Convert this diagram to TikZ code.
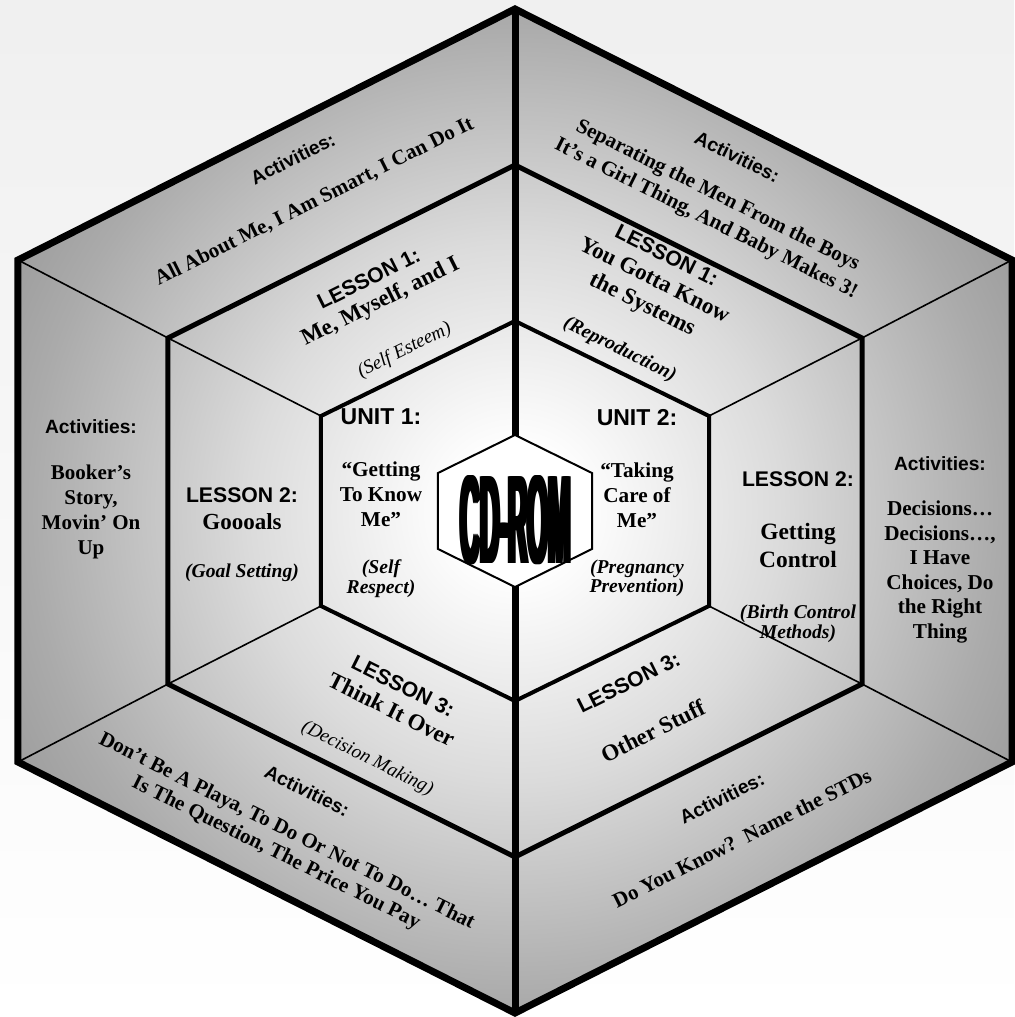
\documentclass[tikz,border=0pt]{standalone}
\usepackage{fontspec}
\setmainfont{Liberation Serif}
\setsansfont{Liberation Sans}

\newcommand{\bodyfont}[2]{\bfseries\fontsize{#1}{#2}\selectfont}
\newcommand{\acthead}{\sffamily\bfseries\fontsize{9.6}{11}\selectfont}
\newcommand{\lessonhead}{\sffamily\bfseries\fontsize{10.6}{12}\selectfont}
\newcommand{\unithead}{\sffamily\bfseries\fontsize{11.5}{13}\selectfont}
\newcommand{\boldnote}{\bfseries\itshape\fontsize{9.8}{10}\selectfont}
\newcommand{\plainnote}{\mdseries\itshape\fontsize{9.6}{10}\selectfont}
\newcommand{\hexof}[1]{(#11) -- (#12) -- (#13) -- (#14) -- (#15) -- (#16) -- cycle}

\pgfdeclareradialshading{hexshade}{\pgfpoint{0bp}{0bp}}{%
  color(0bp)=(white); color(3bp)=(white); color(13.4bp)=(black!14);
  color(24.4bp)=(black!33); color(35.4bp)=(black!48); color(40bp)=(black!52);
  color(50bp)=(black!56)}

\begin{document}
\begin{tikzpicture}[x=0.5pt, y=0.5pt,
    thinline/.style={line width=0.8pt},
    outerline/.style={line width=3.5pt, line join=miter},
    midline/.style={line width=2.5pt, line join=miter},
    innerline/.style={line width=2pt, line join=miter},
    spine/.style={line width=3.5pt},
    cdtext/.style={inner sep=0pt, xscale=0.45, yscale=2.1,
      font=\sffamily\bfseries\fontsize{30}{30}\selectfont},
    actbox/.style={align=center, inner sep=0pt, font=\bodyfont{10.5}{12.6}},
    lessonbox/.style={align=center, inner sep=0pt, font=\bodyfont{11.5}{13.5}},
    unitbox/.style={align=center, inner sep=0pt, font=\bodyfont{10.6}{12.5}}
  ]
  \useasboundingbox (-515,-506) rectangle (499,511);
  \fill[top color=black!6, bottom color=white] (-515,-506) rectangle (499,511);

  % corners of each ring: top, upper right, lower right, bottom, lower left, upper left
  \foreach \ring/\wid/\rad in {o/497/502, m/347/346, i/194/190, c/77/76}{
    \coordinate (\ring1) at (0,\rad);
    \coordinate (\ring2) at (\wid,\rad/2);
    \coordinate (\ring3) at (\wid,-\rad/2);
    \coordinate (\ring4) at (0,-\rad);
    \coordinate (\ring5) at (-\wid,-\rad/2);
    \coordinate (\ring6) at (-\wid,\rad/2);
  }

  \shade[shading=hexshade] \hexof{o};

  % spokes and rings
  \foreach \k in {2,3,5,6}
    \draw[thinline] (o\k) -- (m\k) -- (i\k);
  \draw[spine] (o1) -- (o4);
  \draw[midline] \hexof{m};
  \draw[innerline] \hexof{i};
  \draw[outerline] \hexof{o};
  \filldraw[line width=1pt, line join=miter, fill=white] \hexof{c};
  % heavy condensed lettering: a few copies side by side
  \foreach \dx [count=\n] in {-2,-1,0,1,2}
    \node[cdtext] (cdrom\n) at (1+\dx,-9) {CD-ROM};

  % outer ring: activities
  \node[actbox, rotate=26.5] (actTL) at (-211,330)
    {\acthead Activities:\\[11pt] All About Me, I Am Smart, I Can Do It};
  \node[actbox, rotate=-26.5] (actTR) at (206,322)
    {\acthead Activities:\\[8.5pt] Separating the Men From the Boys\\[0.5pt]
     It’s a Girl Thing, And Baby Makes 3!};
  \node[actbox, font=\bodyfont{10.5}{12.5}] (actL) at (-424,22)
    {\acthead Activities:\\[10.5pt] Booker’s\\ Story,\\ Movin’ On\\ Up};
  \node[actbox, font=\bodyfont{10.6}{12.3}] (actR) at (425,-39)
    {\acthead Activities:\\[10pt] Decisions…\\ Decisions…,\\ I Have\\ Choices, Do\\
     the Right\\ Thing};
  \node[actbox, rotate=-26.5, font=\bodyfont{10.5}{12}] (actBL) at (-224,-312)
    {\acthead Activities:\\[10pt] Don’t Be A Playa, To Do Or Not To Do… That\\
     Is The Question, The Price You Pay};
  \node[actbox, rotate=26.5] (actBR) at (217,-307)
    {\acthead Activities:\\[10pt] Do You Know?\ \ Name the STDs};

  % middle ring: lessons
  \node[lessonbox, rotate=26.5, font=\bodyfont{11.5}{12.5}] (lesTL) at (-128,196)
    {\lessonhead LESSON 1:\\ Me, Myself, and I\\[14pt] \plainnote (Self Esteem)};
  \node[lessonbox, rotate=-26.5] (lesTR) at (128,208)
    {\lessonhead LESSON 1:\\ You Gotta Know\\ the Systems\\[11pt] \boldnote (Reproduction)};
  \node[lessonbox] (lesL) at (-273,-24)
    {\lessonhead LESSON 2:\\ Goooals\\[10.5pt] \boldnote (Goal Setting)};
  \node[lessonbox, font=\bodyfont{11.7}{14}] (lesR) at (283,-46)
    {\lessonhead LESSON 2:\\[12.5pt] Getting\\ Control\\[11.5pt] \boldnote (Birth Control\\[-4pt]
     \boldnote Methods)};
  \node[lessonbox, rotate=-26.5, font=\bodyfont{11.5}{13.2}] (lesBL) at (-130,-212)
    {\lessonhead LESSON 3:\\ Think It Over\\[12.6pt] \plainnote (Decision Making)};
  \node[lessonbox, rotate=26.5] (lesBR) at (126,-196)
    {\lessonhead LESSON 3:\\[14pt] Other Stuff};

  % inner ring: units
  \node[unitbox] (unitL) at (-134,8)
    {\unithead UNIT 1:\\[13.5pt] “Getting\\ To Know\\ Me”\\[11pt] \boldnote (Self\\[-2.5pt]
     \boldnote Respect)};
  \node[unitbox] (unitR) at (122,8)
    {\unithead UNIT 2:\\[13.5pt] “Taking\\ Care of\\ Me”\\[10.5pt] \boldnote (Pregnancy\\[-3pt]
     \boldnote Prevention)};
\end{tikzpicture}
\end{document}
